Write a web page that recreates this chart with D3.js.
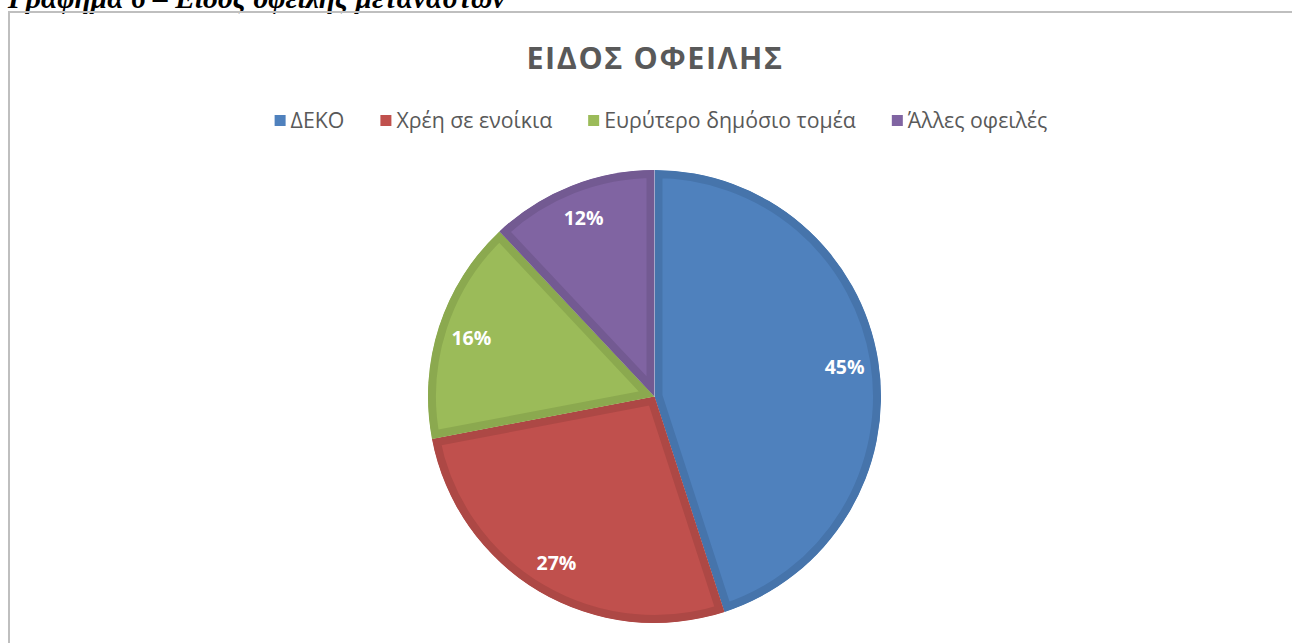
<!DOCTYPE html>
<html>
<head>
  <meta charset="UTF-8">
  <title>Είδος οφειλής</title>
  <style>
    body{
        margin: 0;
        background-color: #fff;
    }
    svg{
        display: block;
    }
  </style>
</head>
<body>
<svg></svg>
<script src="https://d3js.org/d3.v7.min.js"></script>

<script>

// data
let categories = ["ΔΕΚΟ", "Χρέη σε ενοίκια", "Ευρύτερο δημόσιο τομέα", "Άλλες οφειλές"];
let values = [45, 27, 16, 12];
let colors = ["#4F81BD", "#C0504D", "#9BBB59", "#8064A2"];
let edgeColors = ["#4674AB", "#AD4845", "#8BA94F", "#735A92"];

let width = 1292, height = 643;
let font = "'Open Sans', 'DejaVu Sans', sans-serif";

let svg = d3.select("svg")
    .attr("width", width)
    .attr("height", height)
    .attr("viewBox", "0 0 " + width + " " + height);

// caption of the document, cut at the top
svg.append("text")
    .attr("x", 8)
    .attr("y", 8)
    .attr("font-family", "'Liberation Serif', serif")
    .attr("font-weight", "bold")
    .attr("font-style", "italic")
    .attr("font-size", 29.5)
    .attr("fill", "#000")
    .text("Γράφημα 6 – Είδος οφειλής μεταναστών");

// chart frame (top and left edge visible)
svg.append("path")
    .attr("d", "M9," + height + "V12H" + width)
    .attr("fill", "none")
    .attr("stroke", "#bfbfbf")
    .attr("stroke-width", 2);

// title
svg.append("text")
    .attr("x", 655)
    .attr("y", 69)
    .attr("text-anchor", "middle")
    .attr("font-family", font)
    .attr("font-weight", "bold")
    .attr("font-size", 30.5)
    .attr("letter-spacing", 1.6)
    .attr("fill", "#595959")
    .text("ΕΙΔΟΣ ΟΦΕΙΛΗΣ");

// legend
let legend = svg.append("g").attr("class", "legend");
let items = legend.selectAll("g")
    .data(categories)
    .enter().append("g");

items.append("rect")
    .attr("y", 115)
    .attr("width", 11)
    .attr("height", 11)
    .attr("fill", (d, i) => colors[i]);

items.append("text")
    .attr("x", 16)
    .attr("y", 128)
    .attr("font-family", font)
    .attr("font-size", 21.3)
    .attr("fill", "#595959")
    .text(d => d);

// lay the legend items out in a row, centred
let xpos = 0;
items.each(function() {
    let w = this.querySelector("text").getComputedTextLength() + 16;
    d3.select(this).attr("transform", "translate(" + xpos + ",0)");
    xpos += w + 36;
});
let legendWidth = xpos - 36;
legend.attr("transform", "translate(" + (661 - legendWidth / 2) + ",0)");

// pie
let cx = 654.5, cy = 396.5, radius = 226.5;

let pie = d3.pie()
    .sort(null)
    .value(d => d);

let arc = d3.arc()
    .innerRadius(0)
    .outerRadius(radius);

let labelArc = d3.arc()
    .innerRadius(radius * 0.85)
    .outerRadius(radius * 0.85);

let slices = pie(values);

let g = svg.append("g")
    .attr("transform", "translate(" + cx + "," + cy + ")");

let defs = svg.append("defs");
defs.selectAll("clipPath")
    .data(slices)
    .enter().append("clipPath")
    .attr("id", (d, i) => "slice" + i)
    .append("path")
    .attr("d", arc);

// fill with a darker inner edge, like the bevel of the original
g.selectAll("path.slice")
    .data(slices)
    .enter().append("path")
    .attr("class", "slice")
    .attr("d", arc)
    .attr("fill", (d, i) => colors[i])
    .attr("stroke", (d, i) => edgeColors[i])
    .attr("stroke-width", 16)
    .attr("stroke-linejoin", "round")
    .attr("clip-path", (d, i) => "url(#slice" + i + ")");

g.selectAll("text.label")
    .data(slices)
    .enter().append("text")
    .attr("class", "label")
    .attr("transform", d => "translate(" + labelArc.centroid(d) + ")")
    .attr("dy", "0.4em")
    .attr("text-anchor", "middle")
    .attr("font-family", font)
    .attr("font-weight", "bold")
    .attr("font-size", 19.5)
    .attr("fill", "#fff")
    .text(d => d.data + "%");

</script>

</body>
</html>
